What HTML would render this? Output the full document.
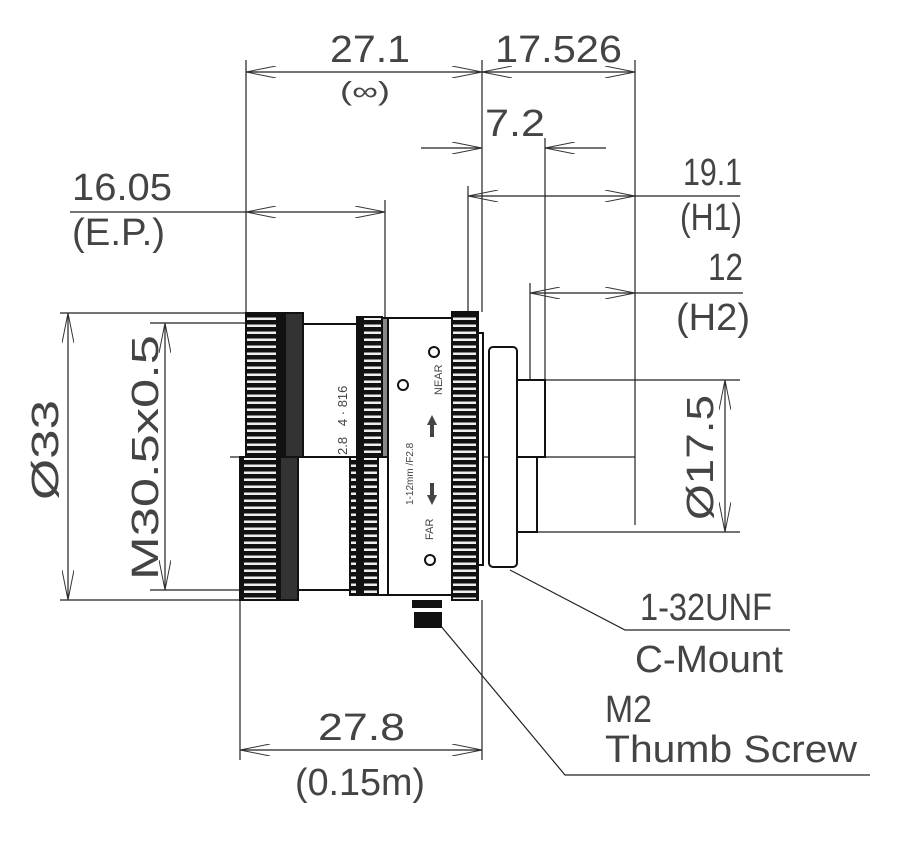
<!DOCTYPE html>
<html><head><meta charset="utf-8"><style>
html,body{margin:0;padding:0;background:#fff;width:898px;height:844px;overflow:hidden}
svg{display:block}
text{font-family:"Liberation Sans",sans-serif;fill:#444}
</style></head><body>
<svg width="898" height="844" viewBox="0 0 898 844" xmlns="http://www.w3.org/2000/svg">
<defs>
<pattern id="kn" width="40" height="7" patternUnits="userSpaceOnUse">
<rect width="40" height="7" fill="#111"/><rect x="4" y="2.5" width="32" height="2.5" fill="#eee"/>
</pattern>
<marker id="a" viewBox="0 0 30 12" refX="30" refY="6" markerWidth="30" markerHeight="12" markerUnits="userSpaceOnUse" orient="auto-start-reverse">
<path d="M0,0 L30,6 L0,12" fill="none" stroke="#333" stroke-width="1"/>
</marker>
</defs>
<g stroke="#222" stroke-width="1.2" fill="none">
<line x1="246" y1="60" x2="246" y2="313"/>
<line x1="482" y1="60" x2="482" y2="312"/>
<line x1="635" y1="60" x2="635" y2="525"/>
<line x1="545" y1="138" x2="545" y2="380"/>
<line x1="468" y1="186" x2="468" y2="312"/>
<line x1="530" y1="283" x2="530" y2="380"/>
<line x1="385" y1="200" x2="385" y2="318"/>
<line x1="60" y1="313" x2="246" y2="313"/>
<line x1="60" y1="600" x2="240" y2="600"/>
<line x1="150" y1="323" x2="303" y2="323"/>
<line x1="150" y1="590" x2="298" y2="590"/>
<line x1="545" y1="380" x2="740" y2="380"/>
<line x1="537" y1="532" x2="740" y2="532"/>
<line x1="240" y1="600" x2="240" y2="760"/>
<line x1="482" y1="600" x2="482" y2="760"/>
<line x1="230" y1="457" x2="635" y2="457"/>
<line x1="246" y1="72" x2="482" y2="72" marker-start="url(#a)" marker-end="url(#a)"/>
<line x1="482" y1="72" x2="635" y2="72" marker-start="url(#a)" marker-end="url(#a)"/>
<line x1="421" y1="148" x2="482" y2="148" marker-end="url(#a)"/>
<line x1="606" y1="148" x2="545" y2="148" marker-end="url(#a)"/>
<line x1="468" y1="196" x2="635" y2="196" marker-start="url(#a)" marker-end="url(#a)"/>
<line x1="635" y1="196" x2="740" y2="196"/>
<line x1="530" y1="293" x2="635" y2="293" marker-start="url(#a)" marker-end="url(#a)"/>
<line x1="635" y1="293" x2="743" y2="293"/>
<line x1="70" y1="212" x2="246" y2="212"/>
<line x1="246" y1="212" x2="385" y2="212" marker-start="url(#a)" marker-end="url(#a)"/>
<line x1="68" y1="313" x2="68" y2="600" marker-start="url(#a)" marker-end="url(#a)"/>
<line x1="165" y1="323" x2="165" y2="590" marker-start="url(#a)" marker-end="url(#a)"/>
<line x1="725" y1="380" x2="725" y2="532" marker-start="url(#a)" marker-end="url(#a)"/>
<line x1="240" y1="750" x2="482" y2="750" marker-start="url(#a)" marker-end="url(#a)"/>
<polyline points="790,630 625,630 510,570"/>
<polyline points="870,775 565,775 440,625"/>
</g>
<g stroke="#111" stroke-width="2">
<rect x="303" y="324" width="55" height="133" fill="#fff"/>
<rect x="298" y="457" width="52" height="133" fill="#fff"/>
<rect x="246" y="313" width="57" height="144" fill="url(#kn)"/>
<rect x="285" y="313" width="18" height="144" fill="#333"/>
<rect x="240" y="457" width="58" height="143" fill="url(#kn)"/>
<rect x="280" y="457" width="18" height="143" fill="#333"/>
<rect x="357" y="317" width="25" height="140" fill="url(#kn)"/>
<rect x="350" y="457" width="28" height="138" fill="url(#kn)"/>
<rect x="382" y="318" width="6" height="139" fill="#888"/>
<rect x="378" y="457" width="10" height="138" fill="#fff"/>
<rect x="388" y="318" width="64" height="277" fill="#fff"/>
<rect x="452" y="312" width="26" height="288" fill="url(#kn)"/>
<rect x="478" y="333" width="5" height="232" fill="#fff"/>
<rect x="489" y="347" width="28" height="220" rx="4" fill="#fff"/>
<rect x="517" y="380" width="28" height="77" fill="#fff"/>
<rect x="517" y="457" width="20" height="75" fill="#fff"/>
</g>
<g stroke="#111" stroke-width="2" fill="#fff">
<circle cx="434" cy="352" r="5"/><circle cx="403" cy="385" r="5"/><circle cx="430" cy="560" r="5"/>
</g>
<path d="M432,415 l-5,10 h3 v12 h4 v-12 h3 z" fill="#444"/>
<path d="M432,505 l-5,-10 h3 v-12 h4 v12 h3 z" fill="#444"/>
<g fill="#111"><rect x="412" y="600" width="30" height="8"/><rect x="414" y="612" width="28" height="16"/></g>
<g font-size="13">
<text transform="translate(347,455) rotate(-90)">2.8&#160;&#160;&#160;4 · 816</text>
<text transform="translate(442,395) rotate(-90)" font-size="11">NEAR</text>
<text transform="translate(433,540) rotate(-90)" font-size="11">FAR</text>
<text transform="translate(413,505) rotate(-90)" font-size="10">1-12mm /F2.8</text>
</g>
<g font-size="38">
<text x="330" y="62" textLength="80" lengthAdjust="spacingAndGlyphs">27.1</text>
<text x="340" y="100" font-size="26" textLength="50" lengthAdjust="spacingAndGlyphs">(∞)</text>
<text x="495" y="62" textLength="127" lengthAdjust="spacingAndGlyphs">17.526</text>
<text x="485" y="136" textLength="60" lengthAdjust="spacingAndGlyphs">7.2</text>
<text x="683" y="185" textLength="59" lengthAdjust="spacingAndGlyphs">19.1</text>
<text x="680" y="230" textLength="62" lengthAdjust="spacingAndGlyphs">(H1)</text>
<text x="708" y="280" textLength="35" lengthAdjust="spacingAndGlyphs">12</text>
<text x="676" y="330" textLength="74" lengthAdjust="spacingAndGlyphs">(H2)</text>
<text x="72" y="200" textLength="100" lengthAdjust="spacingAndGlyphs">16.05</text>
<text x="72" y="245" textLength="93" lengthAdjust="spacingAndGlyphs">(E.P.)</text>
<text x="640" y="620" textLength="132" lengthAdjust="spacingAndGlyphs">1-32UNF</text>
<text x="635" y="672" textLength="148" lengthAdjust="spacingAndGlyphs">C-Mount</text>
<text x="605" y="722" textLength="47" lengthAdjust="spacingAndGlyphs">M2</text>
<text x="605" y="762" textLength="252" lengthAdjust="spacingAndGlyphs">Thumb Screw</text>
<text x="318" y="740" textLength="87" lengthAdjust="spacingAndGlyphs">27.8</text>
<text x="295" y="795" textLength="130" lengthAdjust="spacingAndGlyphs">(0.15m)</text>
<text transform="translate(58,500) rotate(-90)" textLength="100" lengthAdjust="spacingAndGlyphs">Ø33</text>
<text transform="translate(158,580) rotate(-90)" textLength="245" lengthAdjust="spacingAndGlyphs">M30.5x0.5</text>
<text transform="translate(713,520) rotate(-90)" textLength="125" lengthAdjust="spacingAndGlyphs">Ø17.5</text>
</g>
</svg>
</body></html>
